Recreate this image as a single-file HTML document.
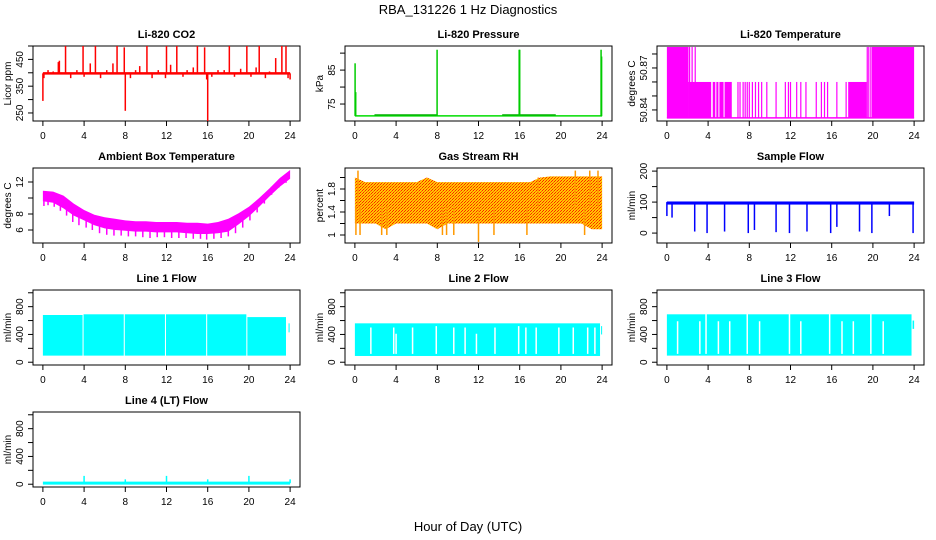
<!DOCTYPE html>
<html><head><meta charset="utf-8"><style>
html,body{margin:0;padding:0;background:#fff;}
svg{display:block;font-family:"Liberation Sans",sans-serif;}
</style></head><body>
<svg id="chart" width="936" height="540" viewBox="0 0 936 540">
<defs>
<pattern id="rhpat" width="3" height="3" patternUnits="userSpaceOnUse">
<rect width="3" height="3" fill="#ffc800"/><rect width="1" height="1" fill="#ff2000"/><rect x="2" y="1" width="1" height="1" fill="#ff2000"/><rect x="1" y="2" width="1" height="1" fill="#ff6000"/>
</pattern>
</defs>
<text x="468" y="14" text-anchor="middle" font-size="13">RBA_131226  1 Hz Diagnostics</text>
<text x="468" y="531" text-anchor="middle" font-size="13">Hour of Day (UTC)</text>
</svg>
<script>
// ---- data ----
const hourTicks = [0,4,8,12,16,20,24];
// CO2
const co2Base = 398;
const co2SpikeHours = [0.0,0.1,0.5,1.0,1.5,1.6,2.2,2.7,3.3,3.9,4.0,4.6,5.1,5.6,6.2,6.8,7.2,7.9,8.0,8.5,9.0,9.4,10.1,10.6,11.2,11.9,12.0,12.4,13.0,13.6,14.0,14.6,15.0,15.7,15.9,16.0,16.4,17.0,17.6,18.1,18.6,19.2,19.8,20.2,20.7,21.0,21.6,22.0,22.6,23.2,23.6,23.8,24.0];
const co2SpikeValues = [295,380,410,405,440,445,500,380,410,500,385,435,500,380,410,435,500,495,258,380,410,425,500,380,410,380,500,430,500,385,410,420,500,495,375,220,385,410,410,500,385,415,500,385,420,500,380,405,455,500,500,380,375];
// Pressure
const presBase = 71.5;
const presSpikeHours = [0.02,0.08,7.98,15.95,16.0,23.9,23.95];
const presSpikeValues = [87,78.5,91,91,91,91,89];
// Li-820 temperature
const tempLow = 50.8343, tempMid = 50.8600, tempHigh = 50.8850;
const tempBlockStart = [0,2.1,4.45,4.8,5.1,5.6,17.6,19.9];
const tempBlockEnd = [2.1,4.3,4.7,5.0,5.5,6.3,19.4,24.0];
const tempBlockLevel = [50.885,50.860,50.860,50.860,50.860,50.860,50.860,50.885];
const tempSpikeHours = [2.2,2.45,2.75,6.9,7.1,7.4,7.6,7.8,8.0,8.3,8.6,8.9,9.2,9.7,10.6,11.5,11.8,12.0,12.6,13.0,13.5,14.5,15.0,15.3,15.6,16.5,17.4,19.45,19.6,19.8];
const tempSpikeValues = [50.885,50.885,50.885,50.86,50.86,50.86,50.86,50.86,50.86,50.86,50.86,50.86,50.86,50.86,50.86,50.86,50.86,50.86,50.86,50.86,50.86,50.86,50.86,50.86,50.86,50.86,50.86,50.885,50.885,50.885];
// Ambient box temperature
const ambHours = [0,1,2,3,4,5,6,7,8,9,10,11,12,13,14,15,16,17,18,19,20,21,22,23,24];
const ambUpper = [10.9,10.8,10.3,9.3,8.5,7.9,7.6,7.4,7.2,7.1,7.1,7.0,7.0,7.0,6.9,6.9,6.8,7.0,7.4,8.1,8.9,10.0,11.2,12.5,13.5];
const ambLower = [9.6,9.4,8.7,7.8,7.2,6.6,6.2,6.0,5.9,5.8,5.8,5.7,5.7,5.7,5.6,5.5,5.5,5.6,5.8,6.7,7.7,8.9,10.2,11.4,12.4];
const ambDipHours = [0.1,0.5,1.1,1.7,2.3,2.9,3.5,4.2,4.8,5.5,6.2,6.9,7.6,8.3,9.0,9.7,10.4,11.1,11.8,12.5,13.2,13.9,14.6,15.3,15.9,16.6,17.3,18.0,18.7,19.4,20.1,20.8,21.5,22.2,22.9,23.6];
const ambDipValues = [9.0,9.1,8.9,8.4,7.8,7.0,6.6,6.3,6.0,5.6,5.4,5.3,5.3,5.2,5.2,5.1,5.0,5.1,5.1,5.0,5.0,5.0,4.9,4.9,4.8,4.9,5.0,5.2,5.6,6.3,7.2,8.2,9.3,10.4,11.3,11.9];
// Gas stream RH
const rhHours = [0,1,2,3,4,5,6,7,8,9,10,11,12,13,14,15,16,17,18,19,20,21,22,23,24];
const rhUpper = [2.0,1.92,1.92,1.92,1.92,1.92,1.92,2.0,1.92,1.92,1.92,1.92,1.92,1.92,1.92,1.92,1.92,1.92,2.0,2.02,2.02,2.02,2.02,2.02,2.02];
const rhLower = [1.2,1.2,1.2,1.1,1.2,1.2,1.2,1.2,1.1,1.2,1.2,1.2,1.2,1.2,1.2,1.2,1.2,1.2,1.2,1.2,1.2,1.2,1.2,1.1,1.1];
const rhSpikeHours = [0.1,0.3,0.5,2.6,3.1,8.5,8.9,9.6,12.0,13.5,16.7,17.8,21.4,22.3,22.8,23.6];
const rhSpikeValues = [1.0,2.12,1.0,1.0,1.0,1.0,1.0,1.0,0.88,1.0,1.0,2.0,2.12,1.0,2.12,2.12];
// Sample flow
const flowBase = 100, flowBandLow = 92;
const flowDipHours = [0.0,0.5,2.7,3.9,5.6,7.9,8.5,10.6,11.9,13.6,15.9,16.5,18.7,19.9,21.6,23.9];
const flowDipValues = [55,50,5,0,5,0,10,3,0,5,0,20,5,0,55,0];
// Line flows
const line1Start = [0,3.95,7.95,11.95,15.95,19.85,23.85];
const line1End = [3.85,7.85,11.85,15.85,19.75,23.6,23.95];
const line1Low = [95,95,95,95,95,95,430];
const line1High = [680,690,690,690,690,650,560];
const line2Start = [0,23.9];
const line2End = [23.8,24.0];
const line2Low = [90,400];
const line2High = [560,520];
const line2GapHours = [1.55,3.77,4.0,5.6,7.9,9.6,10.7,11.8,13.6,15.9,16.6,17.6,19.8,21.2,22.6,23.3];
const line2GapTops = [500,500,410,500,520,500,500,410,500,520,500,500,500,500,500,500];
const line3Start = [0,23.85];
const line3End = [23.75,24.0];
const line3Low = [95,480];
const line3High = [690,600];
const line3GapHours = [1.04,3.2,3.8,5.0,6.1,7.8,9.0,11.9,13.0,15.8,17.0,18.1,19.8,21.0];
const line3GapTops = [590,590,700,590,590,700,590,700,590,700,590,590,700,590];
const line4Base = 15;
const line4SpikeHours = [4.0,8.0,12.0,16.0,20.0,24.0];
const line4SpikeValues = [120,70,120,70,120,70];

// ---- drawing ----
const svg = document.getElementById('chart');
const NS = 'http://www.w3.org/2000/svg';
function mk(tag, attrs){const e=document.createElementNS(NS,tag);for(const k in attrs)e.setAttribute(k,attrs[k]);svg.appendChild(e);return e;}
const colL = [33,345,657], W = 267, H = 75;
const rowT = [46,168,290,412];

function panel(name, col, row, title, ylab, ymin, ymax, yticks, ylabels){
  const L = colL[col], T = rowT[row], B = T+H, R = L+W;
  const p = {L,T,B,R,
    x:h=>L+(h+0.96)/25.92*W,
    y:v=>B-(v-ymin)/(ymax-ymin)*H};
  const box = mk('rect',{x:L,y:T,width:W,height:H,fill:'none',stroke:'#000','stroke-width':1});
  
  
  const t = mk('text',{x:L+W/2,y:T-8,'text-anchor':'middle','font-size':11,'font-weight':'bold'});
  t.textContent = title;
  
  
  const xa = mk('line',{x1:p.x(0),x2:p.x(24),y1:B,y2:B,stroke:'#000'});
  
  
  hourTicks.forEach(h=>{
    mk('line',{x1:p.x(h),x2:p.x(h),y1:B,y2:B+5,stroke:'#000'});
    const tl = mk('text',{x:p.x(h),y:B+18,'text-anchor':'middle','font-size':10});
    tl.textContent = h;
    
    
  });
  const ya = mk('line',{x1:L,x2:L,y1:p.y(yticks[0]),y2:p.y(yticks[yticks.length-1]),stroke:'#000'});
  
  
  yticks.forEach(v=>mk('line',{x1:L-5,x2:L,y1:p.y(v),y2:p.y(v),stroke:'#000'}));
  ylabels.forEach(v=>{
    const yy=p.y(v);
    const tl = mk('text',{x:L-10,y:yy,'text-anchor':'middle','font-size':10,transform:`rotate(-90 ${L-10} ${yy})`});
    tl.textContent = v;
    
    
  });
  const yt = mk('text',{x:L-22,y:T+H/2,'text-anchor':'middle','font-size':10,transform:`rotate(-90 ${L-22} ${T+H/2})`});
  yt.textContent = ylab;
  
  
  return p;
}
function vline(p,h,v1,v2,color,w,nm){
  const e = mk('line',{x1:p.x(h),x2:p.x(h),y1:p.y(v1),y2:p.y(v2),stroke:color,'stroke-width':w});
  
  
  return e;
}
function hline(p,h1,h2,v,color,w,nm){
  const e = mk('line',{x1:p.x(h1),x2:p.x(h2),y1:p.y(v),y2:p.y(v),stroke:color,'stroke-width':w});
  
  
  return e;
}
function block(p,h1,h2,v1,v2,fill,nm){
  const e = mk('rect',{x:p.x(h1),y:p.y(v2),width:p.x(h2)-p.x(h1),height:p.y(v1)-p.y(v2),fill:fill});
  
  
  return e;
}

// CO2
let p = panel('co2',0,0,'Li-820 CO2','Licor ppm',220,500,[250,300,350,400,450,500],[250,350,450]);
hline(p,0,24,co2Base,'#f00',2.5,'co2-baseline');
co2SpikeHours.forEach((h,i)=>vline(p,h,co2Base,co2SpikeValues[i],'#f00',1.5,'co2-spike'));

// Pressure
p = panel('pressure',1,0,'Li-820 Pressure','kPa',70,92.1,[75,80,85,90],[75,85]);
hline(p,0,24,presBase,'#0d0',1.5,'pressure-baseline');
hline(p,1.9,8,presBase+0.3,'#0a0',1.2,'pressure-band');
hline(p,14.3,19.5,presBase+0.3,'#0a0',1.2,'pressure-band');
presSpikeHours.forEach((h,i)=>vline(p,h,presBase,presSpikeValues[i],'#0c0',1.5,'pressure-spike'));

// Li-820 temperature
p = panel('li820-temp',2,0,'Li-820 Temperature','degrees C',50.8321,50.8857,[50.84,50.85,50.86,50.87,50.88],[50.84,50.87]);
hline(p,0,24,tempLow,'#f0f',1.5,'li820-temp-baseline');
tempBlockStart.forEach((s,i)=>block(p,s,tempBlockEnd[i],tempLow,tempBlockLevel[i],'#f0f','li820-temp-block'));
tempSpikeHours.forEach((h,i)=>vline(p,h,tempLow,tempSpikeValues[i],'#f0f',1.2,'li820-temp-spike'));

// Ambient box temperature
p = panel('ambient-temp',0,1,'Ambient Box Temperature','degrees C',4.375,13.75,[6,8,10,12],[6,8,12]);
{
  let d='M'+ambHours.map((h,i)=>p.x(h)+','+p.y(ambUpper[i])).join('L');
  for(let i=ambHours.length-1;i>=0;i--) d+='L'+p.x(ambHours[i])+','+p.y(ambLower[i]);
  const a = mk('path',{d:d+'Z',fill:'#f0f'});
  
  
}
ambDipHours.forEach((h,i)=>vline(p,h,ambDipValues[i]+1,ambDipValues[i],'#f0f',1.5,'ambient-temp-dip'));

// Gas stream RH
p = panel('gas-rh',1,1,'Gas Stream RH','percent',0.861,2.165,[1.0,1.2,1.4,1.6,1.8,2.0],[1.0,1.4,1.8]);
{
  let d='M'+rhHours.map((h,i)=>p.x(h)+','+p.y(rhUpper[i])).join('L');
  for(let i=rhHours.length-1;i>=0;i--) d+='L'+p.x(rhHours[i])+','+p.y(rhLower[i]);
  const a = mk('path',{d:d+'Z',fill:'url(#rhpat)'});
  
  
}
rhSpikeHours.forEach((h,i)=>vline(p,h,1.5,rhSpikeValues[i],'#f90',1.5,'gas-rh-spike'));

// Sample flow
p = panel('sample-flow',2,1,'Sample Flow','ml/min',-32,210,[0,50,100,150,200],[0,100,200]);
block(p,0,24,flowBandLow,flowBase+2,'#00f','sample-flow-band');
flowDipHours.forEach((h,i)=>vline(p,h,flowBase,flowDipValues[i],'#00f',1.5,'sample-flow-dip'));

// Line flows
const fticks=[0,200,400,600,800,1000], flabs=[0,400,800];
p = panel('line1-flow',0,2,'Line 1 Flow','ml/min',-40,1040,fticks,flabs);
line1Start.forEach((s,i)=>block(p,s,line1End[i],line1Low[i],line1High[i],'#0ff','line1-flow-block'));
p = panel('line2-flow',1,2,'Line 2 Flow','ml/min',-40,1040,fticks,flabs);
line2Start.forEach((s,i)=>block(p,s,line2End[i],line2Low[i],line2High[i],'#0ff','line2-flow-block'));
line2GapHours.forEach((h,i)=>vline(p,h,120,line2GapTops[i],'#fff',1.5,'line2-flow-gap'));
p = panel('line3-flow',2,2,'Line 3 Flow','ml/min',-40,1040,fticks,flabs);
line3Start.forEach((s,i)=>block(p,s,line3End[i],line3Low[i],line3High[i],'#0ff','line3-flow-block'));
line3GapHours.forEach((h,i)=>vline(p,h,120,line3GapTops[i],'#fff',1.5,'line3-flow-gap'));
p = panel('line4-flow',0,3,'Line 4 (LT) Flow','ml/min',-40,1040,fticks,flabs);
hline(p,0,24,line4Base,'#0ff',3,'line4-flow-baseline');
line4SpikeHours.forEach((h,i)=>vline(p,h,line4Base,line4SpikeValues[i],'#0ff',1.5,'line4-flow-spike'));
</script>
</body></html>
